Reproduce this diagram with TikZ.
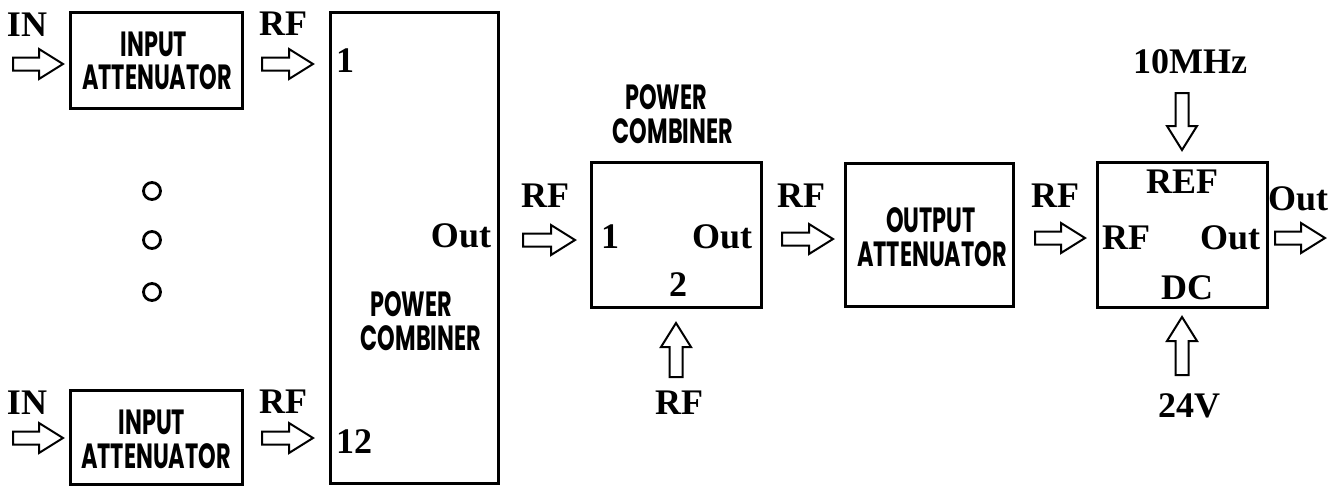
\documentclass[tikz,border=0pt]{standalone}
\usepackage{fontspec}
\setmainfont{Liberation Serif}
\newfontfamily\gsans{Poppins}[FakeStretch=0.64]
\usetikzlibrary{calc}
\tikzset{
  box/.style={draw, line width=3pt, inner sep=0pt, outer sep=0pt},
  lbl/.style={font=\fontsize{36}{36}\selectfont\bfseries, inner sep=0pt},
  sl/.style={font=\fontsize{35}{35}\selectfont\gsans\bfseries, inner sep=0pt},
  ring/.style={draw, circle, line width=2.8pt, minimum size=17pt, inner sep=0pt},
  barrow/.style={draw, line width=2pt, fill=white, line join=miter,
    to path={let \p1=(\tikztostart), \p2=(\tikztotarget), \p3=($(\p2)!24pt!(\p1)$) in
      ($(\p1)!6.5pt!90:(\p2)$) -- ($(\p3)!6.5pt!90:(\p2)$) -- ($(\p3)!15pt!90:(\p2)$) -- (\p2)
      -- ($(\p3)!15pt!-90:(\p2)$) -- ($(\p3)!6.5pt!-90:(\p2)$) -- ($(\p1)!6.5pt!-90:(\p2)$) -- cycle}}
}
\begin{document}
\begin{tikzpicture}[x=1pt,y=-1pt]
\useasboundingbox (0,0) rectangle (1344,485);
% boxes
\node[box, minimum width=172pt, minimum height=96pt] (ia1) at (156,60) {};
\node[box, minimum width=172pt, minimum height=94pt] (ia2) at (156,437) {};
\node[box, minimum width=168pt, minimum height=471pt] (pc1) at (414,247.5) {};
\node[box, minimum width=170pt, minimum height=145pt] (pc2) at (676,234.5) {};
\node[box, minimum width=168pt, minimum height=143pt] (oa) at (929,234.5) {};
\node[box, minimum width=170pt, minimum height=145pt] (dev) at (1182,234.5) {};
% box texts
\node[sl] (ia1a) at (154,44) {INPUT};
\node[sl] (ia1b) at (157,77) {ATTENUATOR};
\node[sl] (ia2a) at (152,422) {INPUT};
\node[sl] (ia2b) at (156,456) {ATTENUATOR};
\node[sl] (pc1a) at (411,304) {POWER};
\node[sl] (pc1b) at (421,338) {COMBINER};
\node[sl] (pc2a) at (666,97) {POWER};
\node[sl] (pc2b) at (673,131) {COMBINER};
\node[sl] (oaa) at (931,220) {OUTPUT};
\node[sl] (oab) at (932,254) {ATTENUATOR};
% ports
\node[lbl] (p1) at (345,61) {1};
\node[lbl] (p12) at (354,442) {12};
\node[lbl] (pc1o) at (461,236) {Out};
\node[lbl] (pc2i) at (610,237) {1};
\node[lbl] (pc2o) at (722,237) {Out};
\node[lbl] (pc2j) at (678,285) {2};
\node[lbl] (dref) at (1182,182) {REF};
\node[lbl] (drf) at (1126,238) {RF};
\node[lbl] (dout) at (1230,238) {Out};
\node[lbl] (ddc) at (1187,288) {DC};
% outside labels
\node[lbl] (in1) at (27,25) {IN};
\node[lbl] (in2) at (27,403) {IN};
\node[lbl] (rf1) at (283,24) {RF};
\node[lbl] (rf2) at (283,402) {RF};
\node[lbl] (rf3) at (545,196) {RF};
\node[lbl] (rf4) at (801,196) {RF};
\node[lbl] (rf5) at (679,403) {RF};
\node[lbl] (rf6) at (1055,196) {RF};
\node[lbl] (outl) at (1298,199) {Out};
\node[lbl] (mhz) at (1190,62) {10MHz};
\node[lbl] (v24) at (1189,406) {24V};
% dots
\node[ring] (d1) at (152,191) {};
\node[ring] (d2) at (152,240) {};
\node[ring] (d3) at (152,292) {};
% arrow end points
\coordinate (a1s) at (13,64);   \coordinate (a1e) at (63,64);
\coordinate (a2s) at (262,64);  \coordinate (a2e) at (313,64);
\coordinate (a3s) at (13,438);  \coordinate (a3e) at (63,438);
\coordinate (a4s) at (262,438); \coordinate (a4e) at (313,438);
\coordinate (a5s) at (523,240); \coordinate (a5e) at (575,240);
\coordinate (a6s) at (782,239); \coordinate (a6e) at (833,239);
\coordinate (a7s) at (1035,238); \coordinate (a7e) at (1085,238);
\coordinate (a8s) at (1275,238); \coordinate (a8e) at (1325,238);
\coordinate (a9s) at (1182,93); \coordinate (a9e) at (1182,150);
\coordinate (a10s) at (1182,375); \coordinate (a10e) at (1182,317);
\coordinate (a11s) at (676,377); \coordinate (a11e) at (676,323);
\foreach \i in {1,...,11} \draw[barrow] (a\i s) to (a\i e);
\end{tikzpicture}
\end{document}
